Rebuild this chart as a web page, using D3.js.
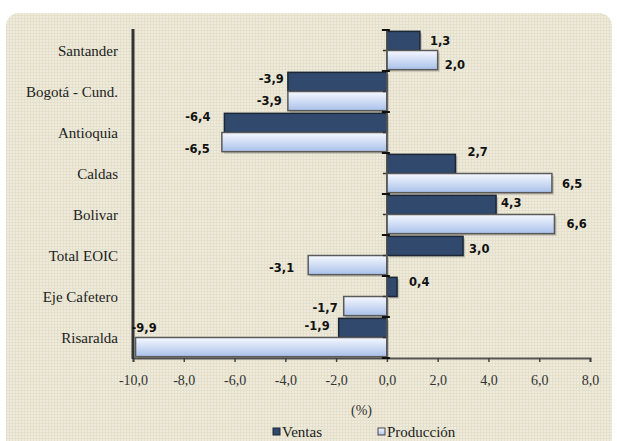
<!DOCTYPE html>
<html>
<head>
<meta charset="utf-8">
<script src="https://cdn.jsdelivr.net/npm/d3@7"></script>
<style>
  body { margin: 0; background: #fff; }
  svg { display: block; }
</style>
</head>
<body>
<div id="chart"></div>
<script>
(function() {

    // data
    var regions = ["Santander", "Bogotá - Cund.", "Antioquia", "Caldas", "Bolivar", "Total EOIC", "Eje Cafetero", "Risaralda"];
    var ventas = [1.3, -3.9, -6.4, 2.7, 4.3, 3.0, 0.4, -1.9];
    var produccion = [2.0, -3.9, -6.5, 6.5, 6.6, -3.1, -1.7, -9.9];
    var xTicks = [-10, -8, -6, -4, -2, 0, 2, 4, 6, 8];
    var seriesNames = ["Ventas", "Producción"];

    // hand nudges for the value labels (Excel moved some of them)
    var nudgeV = [[10, 0], [-4, -3], [-14, -6], [12, -12], [5, -2], [6, 3], [12, -5], [-9, -2]];
    var nudgeP = [[7, 5], [-6, 0], [-12, 7], [10, 1], [12, 0], [-14, 3], [-6, 2], [0, 0]];

    var serif = "'Liberation Serif', 'Times New Roman', serif";

    var width = 617;
    var height = 441;

    var svg = d3.select("#chart")
    .append("svg")
    .attr("width", width)
    .attr("height", height);

    var defs = svg.append("defs");

    var pat = defs.append("pattern")
    .attr("id", "grid")
    .attr("width", 3)
    .attr("height", 3)
    .attr("patternUnits", "userSpaceOnUse");
    pat.append("rect").attr("width", 3).attr("height", 3).attr("fill", "#eeebdc");
    pat.append("rect").attr("width", 3).attr("height", 1).attr("fill", "#e4e0cb");
    pat.append("rect").attr("width", 1).attr("height", 3).attr("fill", "#e4e0cb");

    var grad = defs.append("linearGradient")
    .attr("id", "prodGrad")
    .attr("x1", 0).attr("y1", 0).attr("x2", 0).attr("y2", 1);
    grad.append("stop").attr("offset", "0%").attr("stop-color", "#f6f9ff");
    grad.append("stop").attr("offset", "100%").attr("stop-color", "#a9c0ea");

    // panel
    svg.append("rect")
    .attr("x", 6)
    .attr("y", 13)
    .attr("width", 606)
    .attr("height", 445)
    .attr("rx", 13)
    .attr("fill", "url(#grid)");

    var left = 133, right = 590, top = 30, bottom = 358;

    var x = d3.scaleLinear().domain([-10, 8]).range([left, right]);

    var y = d3.scaleBand().domain(regions).range([top, bottom]);

    var inner = d3.scaleBand().domain(seriesNames).range([0, y.bandwidth()]).paddingOuter(0.07);

    var rows = regions.map(function(r, i) {
        return { region: r, v: ventas[i], p: produccion[i], i: i };
    });

    function fmt(v) { return d3.format(".1f")(v).replace(".", ",").replace("−", "-"); }

    // bottom axis
    var xAxis = svg.append("g")
    .attr("transform", "translate(0," + bottom + ")")
    .call(d3.axisBottom(x).tickValues(xTicks).tickSize(4).tickPadding(13).tickFormat(fmt));
    xAxis.select(".domain").attr("stroke", "#555").attr("stroke-width", 2);
    xAxis.selectAll(".tick line").attr("stroke", "#444").attr("stroke-width", 1.5);
    xAxis.selectAll("text")
    .attr("font-family", serif)
    .attr("font-size", 14)
    .attr("fill", "#333");

    // bars with a soft shadow
    function drawBars(cls, key, fill, stroke) {
        svg.selectAll("rect.sh-" + cls)
        .data(rows)
        .enter().append("rect")
        .attr("x", function(d) { return Math.min(x(0), x(d[key])) + 2; })
        .attr("y", function(d) { return y(d.region) + inner(cls) + 2; })
        .attr("width", function(d) { return Math.abs(x(d[key]) - x(0)); })
        .attr("height", inner.bandwidth())
        .attr("fill", "#000")
        .attr("opacity", 0.18);

        svg.selectAll("rect.bar-" + cls)
        .data(rows)
        .enter().append("rect")
        .attr("x", function(d) { return Math.min(x(0), x(d[key])); })
        .attr("y", function(d) { return y(d.region) + inner(cls); })
        .attr("width", function(d) { return Math.abs(x(d[key]) - x(0)); })
        .attr("height", inner.bandwidth())
        .attr("fill", fill)
        .attr("stroke", stroke)
        .attr("stroke-width", 1.5);
    }
    drawBars("Ventas", "v", "#30496c", "#1c2636");
    drawBars("Producción", "p", "url(#prodGrad)", "#5a5a5a");

    // zero axis with category ticks
    var zero = svg.append("g").attr("transform", "translate(" + x(0) + ",0)");
    zero.append("line")
    .attr("y1", top).attr("y2", bottom)
    .attr("stroke", "#555").attr("stroke-width", 1.5);
    var bounds = regions.map(function(r) { return y(r); }).concat([bottom]);
    zero.selectAll("line.major")
    .data(bounds)
    .enter().append("line")
    .attr("x1", -5).attr("x2", 3)
    .attr("y1", function(d) { return d; })
    .attr("y2", function(d) { return d; })
    .attr("stroke", "#111").attr("stroke-width", 2);
    zero.selectAll("line.minor")
    .data(regions)
    .enter().append("line")
    .attr("x1", -4).attr("x2", -1)
    .attr("y1", function(d) { return y(d) + y.bandwidth() / 2; })
    .attr("y2", function(d) { return y(d) + y.bandwidth() / 2; })
    .attr("stroke", "#333").attr("stroke-width", 1.5);

    // left axis
    svg.append("line")
    .attr("x1", left).attr("x2", left)
    .attr("y1", top - 1).attr("y2", bottom + 1)
    .attr("stroke", "#333").attr("stroke-width", 3);

    svg.selectAll("text.cat")
    .data(regions)
    .enter().append("text")
    .attr("x", 118)
    .attr("y", function(d) { return y(d) + y.bandwidth() / 2; })
    .attr("dy", "0.35em")
    .attr("text-anchor", "end")
    .attr("font-family", serif)
    .attr("font-size", 15)
    .attr("fill", "#222")
    .text(function(d) { return d; });

    // value labels
    function drawLabels(cls, key, nudge) {
        svg.selectAll("text.lab-" + cls)
        .data(rows)
        .enter().append("text")
        .attr("x", function(d) {
            if (cls === "Producción" && d.i === 7) return x(d[key]) - 4;
            return x(d[key]) + nudge[d.i][0];
        })
        .attr("y", function(d) {
            if (cls === "Producción" && d.i === 7) return y(d.region) + inner("Ventas") + inner.bandwidth() / 2;
            return y(d.region) + inner(cls) + inner.bandwidth() / 2 + nudge[d.i][1];
        })
        .attr("dy", "0.36em")
        .attr("text-anchor", function(d) {
            if (cls === "Producción" && d.i === 7) return "start";
            return d[key] < 0 ? "end" : "start";
        })
        .attr("font-family", "DejaVu Sans")
        .attr("font-weight", "bold")
        .attr("font-size", 11.5)
        .attr("fill", "#111")
        .text(function(d) { return fmt(d[key]); });
    }
    drawLabels("Ventas", "v", nudgeV);
    drawLabels("Producción", "p", nudgeP);

    // axis title
    svg.append("text")
    .attr("x", (left + right) / 2)
    .attr("y", 410)
    .attr("dy", "0.35em")
    .attr("text-anchor", "middle")
    .attr("font-family", serif)
    .attr("font-size", 14)
    .attr("fill", "#333")
    .text("(%)");

    // legend
    var legendX = [273, 378];
    var legendFill = ["#30496c", "url(#prodGrad)"];
    var legendStroke = ["#1c2636", "#444"];
    var lg = svg.selectAll("g.legend")
    .data(seriesNames)
    .enter().append("g")
    .attr("transform", function(d, i) { return "translate(" + legendX[i] + ",432)"; });
    lg.append("rect")
    .attr("x", 0).attr("y", -4)
    .attr("width", 7).attr("height", 7)
    .attr("fill", function(d, i) { return legendFill[i]; })
    .attr("stroke", function(d, i) { return legendStroke[i]; })
    .attr("stroke-width", 1);
    lg.append("text")
    .attr("x", 9)
    .attr("y", 0)
    .attr("dy", "0.35em")
    .attr("font-family", serif)
    .attr("font-size", 15)
    .attr("fill", "#222")
    .text(function(d) { return d; });

})();
</script>
</body>
</html>
